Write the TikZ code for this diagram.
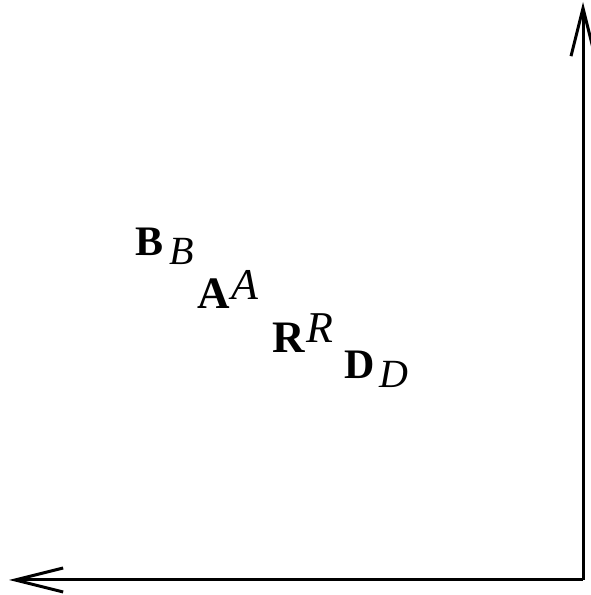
\documentclass[tikz,border=0pt]{standalone}
\usepackage{fontspec}
\setmainfont{Liberation Serif}
\usetikzlibrary{arrows.meta}
\begin{document}
\begin{tikzpicture}[x=1pt,y=1pt,
  axis/.style={line width=3pt,-{Straight Barb[length=48pt,width=24pt,line width=3pt]}},
  bigb/.style={anchor=base west,inner sep=0pt,font=\fontsize{45}{45}\selectfont\bfseries},
  bigi/.style={anchor=base west,inner sep=0pt,font=\fontsize{44}{44}\selectfont\itshape},
  smallb/.style={anchor=base west,inner sep=0pt,font=\fontsize{42}{42}\selectfont\bfseries},
  smalli/.style={anchor=base west,inner sep=0pt,font=\fontsize{40}{40}\selectfont\itshape}]
\useasboundingbox (0,0) rectangle (590,595);
\coordinate (O) at (583,15);
\coordinate (L) at (9,15);
\coordinate (U) at (583,593);
\draw[axis] (O) -- (L);
\draw[axis] (O) -- (U);
\node[smallb] (B1) at (135,339) {B};
\node[smalli] (B2) at (169,330) {B};
\node[bigb] (A1) at (197,286) {A};
\node[bigi] (A2) at (231,295) {A};
\node[bigb] (R1) at (272,242) {R};
\node[bigi] (R2) at (306,252) {R};
\node[smallb] (D1) at (344,216) {D};
\node[smalli] (D2) at (379,207) {D};
\end{tikzpicture}
\end{document}
